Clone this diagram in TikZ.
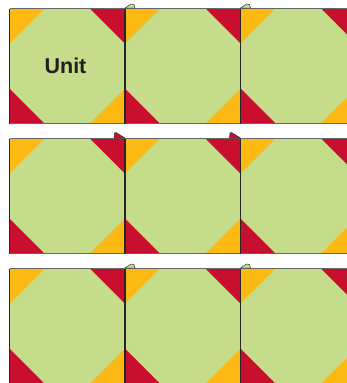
\documentclass[tikz,border=0pt]{standalone}
\usepackage{fontspec}
\setsansfont{Liberation Sans}
\usepackage{tikz}

\definecolor{patchgreen}{HTML}{C5DC8B}
\definecolor{patchorange}{HTML}{FDB913}
\definecolor{patchred}{HTML}{C8102E}
\definecolor{inkdark}{HTML}{231F20}

\tikzset{
  hline/.style={draw=black!60, line width=1.1pt},
  seam/.style={draw=black!85, line width=1.1pt},
  flap/.style={draw=black!80, line width=0.5pt, line join=round}
}

\begin{document}
\begin{tikzpicture}[x=1pt,y=-1pt]
    \useasboundingbox (0,0) rectangle (347,383);
    \clip (0,0) rectangle (347,383);

    \foreach \r in {0,1,2} {
      \foreach \c in {0,1,2} {
        \begin{scope}[shift={(9.5+115.5*\c,8.5+130*\r)}]
          \fill[patchgreen] (0,0) rectangle (115.5,115);
          \fill[patchorange] (0,0) -- (35,0) -- (0,35) -- cycle;
          \fill[patchred] (115.5,0) -- (80.5,0) -- (115.5,35) -- cycle;
          \fill[patchred] (0,115) -- (0,80) -- (35,115) -- cycle;
          \fill[patchorange] (115.5,115) -- (80.5,115) -- (115.5,80) -- cycle;
        \end{scope}
      }
      \draw[hline] (9.5,8.5+130*\r) -- (356,8.5+130*\r);
      \draw[hline] (9.5,123.5+130*\r) -- (356,123.5+130*\r);
      \draw[seam] (9.5,8.5+130*\r) -- (9.5,123.5+130*\r);
      \draw[seam] (125,8.5+130*\r) -- (125,123.5+130*\r);
      \draw[seam] (240.5,8.5+130*\r) -- (240.5,123.5+130*\r);
    }

    \node[font=\sffamily\bfseries, text=inkdark, inner sep=0pt] (unit) at (65.5,66) {\fontsize{21.5}{21.5}\selectfont Unit};

    \draw[flap, fill=patchgreen] (125,8) -- (131,4) -- (134,4.5) -- (135,8) -- cycle;
    \draw[flap, fill=patchgreen] (240.5,8) -- (246.5,4) -- (249.5,4.5) -- (250.5,8) -- cycle;

    \draw[flap, fill=patchred] (114,138) -- (114.5,133) -- (116,132.5) -- (125,138) -- cycle;
    \draw[flap, fill=patchred] (229.5,138) -- (230,133) -- (231.5,132.5) -- (240.5,138) -- cycle;

    \draw[flap, fill=patchgreen] (125,268) -- (131,264) -- (134,264.5) -- (135,268) -- cycle;
    \draw[flap, fill=patchgreen] (240.5,268) -- (246.5,264) -- (249.5,264.5) -- (250.5,268) -- cycle;
\end{tikzpicture}
\end{document}
